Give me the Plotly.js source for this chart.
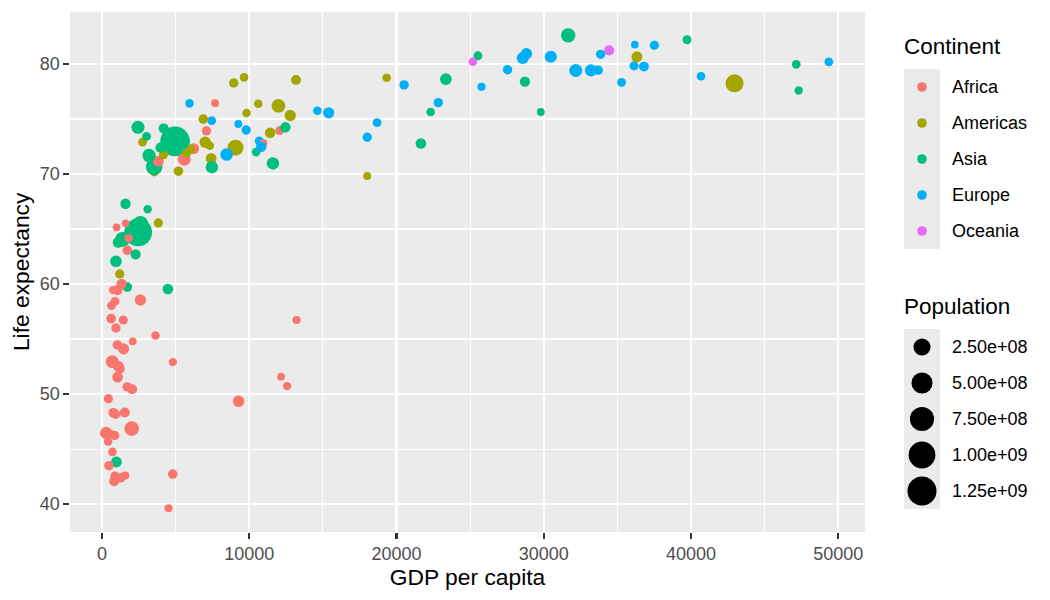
<!DOCTYPE html>
<html>
<head>
<meta charset="utf-8">
<script src="https://cdn.plot.ly/plotly-3.0.1.min.js"></script>
<style>
  html, body { margin: 0; padding: 0; background: #ffffff; }
  #chart { width: 1050px; height: 600px; }
</style>
</head>
<body>
<div id="chart"></div>
<script>
// Gapminder, 2007: one row per country
const countries = ["Afghanistan","Albania","Algeria","Angola","Argentina","Australia","Austria","Bahrain","Bangladesh","Belgium","Benin","Bolivia","Bosnia and Herzegovina","Botswana","Brazil","Bulgaria","Burkina Faso","Burundi","Cambodia","Cameroon","Canada","Central African Republic","Chad","Chile","China","Colombia","Comoros","Congo, Dem. Rep.","Congo, Rep.","Costa Rica","Cote d'Ivoire","Croatia","Cuba","Czech Republic","Denmark","Djibouti","Dominican Republic","Ecuador","Egypt","El Salvador","Equatorial Guinea","Eritrea","Ethiopia","Finland","France","Gabon","Gambia","Germany","Ghana","Greece","Guatemala","Guinea","Guinea-Bissau","Haiti","Honduras","Hong Kong, China","Hungary","Iceland","India","Indonesia","Iran","Iraq","Ireland","Israel","Italy","Jamaica","Japan","Jordan","Kenya","Korea, Dem. Rep.","Korea, Rep.","Kuwait","Lebanon","Lesotho","Liberia","Libya","Madagascar","Malawi","Malaysia","Mali","Mauritania","Mauritius","Mexico","Mongolia","Montenegro","Morocco","Mozambique","Myanmar","Namibia","Nepal","Netherlands","New Zealand","Nicaragua","Niger","Nigeria","Norway","Oman","Pakistan","Panama","Paraguay","Peru","Philippines","Poland","Portugal","Puerto Rico","Reunion","Romania","Rwanda","Sao Tome and Principe","Saudi Arabia","Senegal","Serbia","Sierra Leone","Singapore","Slovak Republic","Slovenia","Somalia","South Africa","Spain","Sri Lanka","Sudan","Swaziland","Sweden","Switzerland","Syria","Taiwan","Tanzania","Thailand","Togo","Trinidad and Tobago","Tunisia","Turkey","Uganda","United Kingdom","United States","Uruguay","Venezuela","Vietnam","West Bank and Gaza","Yemen, Rep.","Zambia","Zimbabwe"];

const continent = ["Asia","Europe","Africa","Africa","Americas","Oceania","Europe","Asia","Asia","Europe","Africa","Americas","Europe","Africa","Americas","Europe","Africa","Africa","Asia","Africa","Americas","Africa","Africa","Americas","Asia","Americas","Africa","Africa","Africa","Americas","Africa","Europe","Americas","Europe","Europe","Africa","Americas","Americas","Africa","Americas","Africa","Africa","Africa","Europe","Europe","Africa","Africa","Europe","Africa","Europe","Americas","Africa","Africa","Americas","Americas","Asia","Europe","Europe","Asia","Asia","Asia","Asia","Europe","Asia","Europe","Americas","Asia","Asia","Africa","Asia","Asia","Asia","Asia","Africa","Africa","Africa","Africa","Africa","Asia","Africa","Africa","Africa","Americas","Asia","Europe","Africa","Africa","Asia","Africa","Asia","Europe","Oceania","Americas","Africa","Africa","Europe","Asia","Asia","Americas","Americas","Americas","Asia","Europe","Europe","Americas","Africa","Europe","Africa","Africa","Asia","Africa","Europe","Africa","Asia","Europe","Europe","Africa","Africa","Europe","Asia","Africa","Africa","Europe","Europe","Asia","Asia","Africa","Asia","Africa","Americas","Africa","Europe","Africa","Europe","Americas","Americas","Americas","Asia","Asia","Asia","Africa","Africa"];

const lifeExp = [43.828,76.423,72.301,42.731,75.32,81.235,79.829,75.635,64.062,79.441,56.728,65.554,74.852,50.728,72.39,73.005,52.295,49.58,59.723,50.43,80.653,44.741,50.651,78.553,72.961,72.889,65.152,46.462,55.322,78.782,48.328,75.748,78.273,76.486,78.332,54.791,72.235,74.994,71.338,71.878,51.579,58.04,52.947,79.313,80.657,56.735,59.448,79.406,60.022,79.483,70.259,56.007,46.388,60.916,70.198,82.208,73.338,81.757,64.698,70.65,70.964,59.545,78.885,80.745,80.546,72.567,82.603,72.535,54.11,67.297,78.623,77.588,71.993,42.592,45.678,73.952,59.443,48.303,74.241,54.467,64.164,72.801,76.195,66.803,74.543,71.164,42.082,62.069,52.906,63.785,79.762,80.204,72.899,56.867,46.859,80.196,75.64,65.483,75.537,71.752,71.421,71.688,75.563,78.098,78.746,76.442,72.476,46.242,65.528,72.777,63.062,74.002,42.568,79.972,74.663,77.926,48.159,49.339,80.941,72.396,58.556,39.613,80.884,81.701,74.143,78.4,52.517,70.616,58.42,69.819,73.923,71.777,51.542,79.425,78.242,76.384,73.747,74.249,73.422,62.698,42.384,43.487];

const gdpPercap = [974.58,5937.03,6223.37,4797.23,12779.38,34435.37,36126.49,29796.05,1391.25,33692.61,1441.28,3822.14,7446.30,12569.85,9065.80,10680.79,1217.03,430.07,1713.78,2042.10,36319.24,706.02,1704.06,13171.64,4959.11,7006.58,986.15,277.55,3632.56,9645.06,1544.75,14619.22,8948.10,22833.31,35278.42,2082.48,6025.37,6873.26,5581.18,5728.35,12154.09,641.37,690.81,33207.08,30470.02,13206.48,752.75,32170.37,1327.61,27538.41,5186.05,942.65,579.23,1201.64,3548.33,39724.98,18008.94,36180.79,2452.21,3540.65,11605.71,4471.06,40676.00,25523.28,28569.72,7320.88,31656.07,4519.46,1463.25,1593.07,23348.14,47306.99,10461.06,1569.33,414.51,12057.50,1044.77,759.35,12451.66,1042.58,1803.15,10956.99,11977.57,3095.77,9253.90,3820.18,823.69,944.00,4811.06,1091.36,36797.93,25185.01,2749.32,619.68,2013.98,49357.19,22316.19,2605.95,9809.19,4172.84,7408.91,3190.48,15389.92,20509.65,19328.71,7670.12,10808.48,863.09,1598.44,21654.83,1712.47,9786.53,862.54,47143.18,18678.31,25768.26,926.14,9269.66,28821.06,3970.10,2602.39,4513.48,33859.75,37506.42,4184.55,28718.28,1107.48,7458.40,882.97,18008.51,7092.92,8458.28,1056.38,33203.26,42951.65,10611.46,11415.81,2441.58,3025.35,2280.77,1271.21,469.71];

const pop = [31889923,3600523,33333216,12420476,40301927,20434176,8199783,708573,150448339,10392226,8078314,9119152,4552198,1639131,190010647,7322858,14326203,8390505,14131858,17696293,33390141,4369038,10238807,16284741,1318683096,44227550,710960,64606759,3800610,4133884,18013409,4493312,11416987,10228744,5468120,496374,9319622,13755680,80264543,6939688,551201,4906585,76511887,5238460,61083916,1454867,1688359,82400996,22873338,10706290,12572928,9947814,1472041,8502814,7483763,6980412,9956108,301931,1110396331,223547000,69453570,27499638,4109086,6426679,58147733,2780132,127467972,6053193,35610177,23301725,49044790,2505559,3921278,2012649,3193942,6036914,19167654,13327079,24821286,12031795,3270065,1250882,108700891,2874127,684736,33757175,19951656,47761980,2055080,28901790,16570613,4115771,5675356,12894865,135031164,4627926,3204897,169270617,3242173,6667147,28674757,91077287,38518241,10642836,3942491,798094,22276056,8860588,199579,27601038,12267493,10150265,6144562,4553009,5447502,2009245,9118773,43997828,40448191,20378239,42292929,1133066,9031088,7554661,19314747,23174294,38139640,65068149,5701579,1056608,10276158,71158647,29170398,60776238,301139947,3447496,26084662,85262356,4018332,22211743,11746035,12311143];

// Legend contents
const continentLevels = ["Africa","Americas","Asia","Europe","Oceania"];
const continentColors = ["#F8766D","#A3A500","#00BF7D","#00B0F6","#E76BF3"];
const popBreaks = [2.5e8, 5.0e8, 7.5e8, 1.0e9, 1.25e9];
const popBreakLabels = ["2.50e+08","5.00e+08","7.50e+08","1.00e+09","1.25e+09"];

// ---- size scale: area-proportional, size range 1..6 (mm) ----
const popMin = Math.min(...pop);
const popMax = Math.max(...pop);
const PT = 72.27 / 25.4;          // mm -> pt
const PX_PER_PT = 150 / 72;       // render resolution
function sizeFromPop(p) {
  return 1 + 5 * Math.sqrt((p - popMin) / (popMax - popMin));
}
function diameterPx(size) {
  return 0.75 * (size * PT + 0.945) * PX_PER_PT + 1.5;
}

const colorOf = {};
continentLevels.forEach((c, i) => { colorOf[c] = continentColors[i]; });

const FONT = "Liberation Sans, Arial, sans-serif";

// Main scatter: drawn in row order so overlaps stack as in the data
const main = {
  type: "scatter",
  mode: "markers",
  x: gdpPercap,
  y: lifeExp,
  text: countries,
  xaxis: "x",
  yaxis: "y",
  opacity: 1,
  marker: {
    color: continent.map(c => colorOf[c]),
    size: pop.map(p => diameterPx(sizeFromPop(p))),
    sizemode: "diameter",
    line: { width: 0 },
    opacity: 1
  },
  hovertemplate: "%{text}<br>GDP per capita: %{x:.0f}<br>Life expectancy: %{y:.1f}<extra></extra>",
  showlegend: false
};

// ---- legends, laid out on a hidden pixel-unit axis pair ----
const W = 1050, H = 600;
const ML = 70, MB = 68;
const plotW = W - ML;            // x paper span (r margin = 0)
const plotH = H - MB;            // y paper span (t margin = 0)
const panelRight = 865, panelTop = 11.7;

const keyX0 = 904, keyX1 = 940, keyH = 36;
const keyCx = (keyX0 + keyX1) / 2;
const labelX = 951.5;

const contTitleY = 46.5, contKeyTop = 69;
const popTitleY = 306.5, popKeyTop = 329;

const shapes = [];
const annotations = [];

function addKeyBg(top, n) {
  shapes.push({
    type: "rect", xref: "x2", yref: "y2",
    x0: keyX0, x1: keyX1, y0: top, y1: top + n * keyH,
    fillcolor: "#EBEBEB", line: { width: 0 }, layer: "below"
  });
}
function addText(text, x, y, size) {
  annotations.push({
    xref: "x2", yref: "y2", x: x, y: y, text: text,
    xanchor: "left", yanchor: "middle", showarrow: false,
    borderpad: 0, borderwidth: 0,
    font: { family: FONT, size: size, color: "#000000" }
  });
}

addKeyBg(contKeyTop, continentLevels.length);
addText("Continent", keyX0, contTitleY, 22.5);
const contKeyY = continentLevels.map((_, i) => contKeyTop + keyH * (i + 0.5));
continentLevels.forEach((c, i) => addText(c, labelX, contKeyY[i], 18));

addKeyBg(popKeyTop, popBreaks.length);
addText("Population", keyX0, popTitleY, 22.5);
const popKeyY = popBreaks.map((_, i) => popKeyTop + keyH * (i + 0.5));
popBreakLabels.forEach((t, i) => addText(t, labelX, popKeyY[i], 18));

const contKeys = {
  type: "scatter", mode: "markers", xaxis: "x2", yaxis: "y2",
  x: continentLevels.map(() => keyCx), y: contKeyY,
  opacity: 1,
  marker: { color: continentColors, size: diameterPx(1.5), line: { width: 0 }, opacity: 1 },
  hoverinfo: "skip", showlegend: false
};
const popKeys = {
  type: "scatter", mode: "markers", xaxis: "x2", yaxis: "y2",
  x: popBreaks.map(() => keyCx), y: popKeyY,
  opacity: 1,
  marker: {
    color: popBreaks.map(() => "#000000"),
    size: popBreaks.map(p => diameterPx(sizeFromPop(p))),
    line: { width: 0 }, opacity: 1
  },
  hoverinfo: "skip", showlegend: false
};

const legendLeft = 870;

const layout = {
  width: W, height: H,
  margin: { l: ML, r: 0, t: 0, b: MB, pad: 0 },
  paper_bgcolor: "#FFFFFF",
  plot_bgcolor: "rgba(0,0,0,0)",
  font: { family: FONT, color: "#4D4D4D" },
  showlegend: false,
  xaxis: {
    domain: [0, (panelRight - ML) / plotW],
    range: [-2176.4, 51811.2],
    tickmode: "linear", tick0: 0, dtick: 10000,
    tickformat: "d",
    showgrid: true, gridcolor: "#FFFFFF", gridwidth: 2.2,
    minor: { dtick: 5000, tick0: 0, showgrid: true, gridcolor: "#FFFFFF", gridwidth: 1.1 },
    zeroline: false, showline: false,
    ticks: "outside", ticklen: 5.7, tickwidth: 2.2, tickcolor: "#333333",
    tickfont: { family: FONT, size: 18, color: "#4D4D4D" },
    title: { text: "GDP per capita", font: { family: FONT, size: 22.8, color: "#000000" }, standoff: 1 },
    anchor: "y", fixedrange: true
  },
  yaxis: {
    domain: [0, (plotH - panelTop) / plotH],
    range: [37.4635, 84.7525],
    tickmode: "linear", tick0: 40, dtick: 10,
    showgrid: true, gridcolor: "#FFFFFF", gridwidth: 2.2,
    minor: { dtick: 5, tick0: 40, showgrid: true, gridcolor: "#FFFFFF", gridwidth: 1.1 },
    zeroline: false, showline: false,
    ticks: "outside", ticklen: 5.7, tickwidth: 2.2, tickcolor: "#333333",
    tickfont: { family: FONT, size: 18, color: "#4D4D4D" },
    title: { text: "Life expectancy", font: { family: FONT, size: 22.8, color: "#000000" }, standoff: 3 },
    anchor: "x", fixedrange: true
  },
  xaxis2: {
    domain: [(legendLeft - ML) / plotW, 1],
    range: [legendLeft, W],
    visible: false, showgrid: false, zeroline: false, fixedrange: true, anchor: "y2"
  },
  yaxis2: {
    domain: [0, 1],
    range: [plotH, 0],
    visible: false, showgrid: false, zeroline: false, fixedrange: true, anchor: "x2"
  },
  shapes: [
    // panel background
    { type: "rect", xref: "x domain", yref: "y domain", x0: 0, x1: 1, y0: 0, y1: 1,
      fillcolor: "#EBEBEB", line: { width: 0 }, layer: "below" }
  ].concat(shapes),
  annotations: annotations
};

Plotly.newPlot("chart", [main, contKeys, popKeys], layout, { displayModeBar: false, staticPlot: true });
</script>
</body>
</html>
